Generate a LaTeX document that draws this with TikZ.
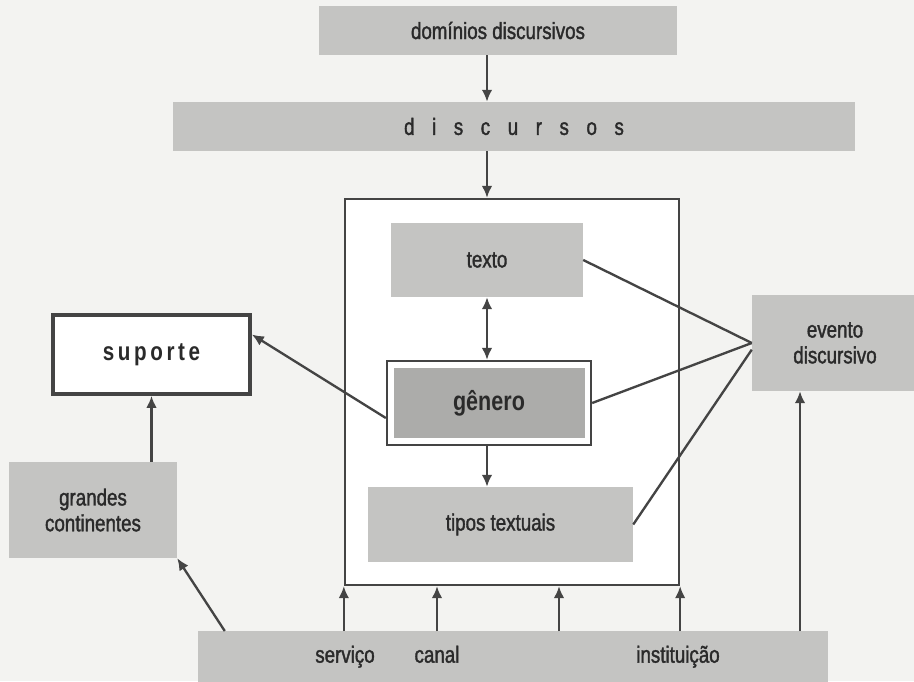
\documentclass[tikz,border=0pt]{standalone}
\usepackage{fontspec}
\setmainfont{Liberation Sans}[FakeStretch=0.8, UprightFeatures={FakeBold=1.5}]
\usepackage{xcolor}
\definecolor{pageBg}{HTML}{F3F3F1}
\definecolor{boxGray}{HTML}{C4C4C2}
\definecolor{boxDark}{HTML}{ACACAA}
\definecolor{lineGray}{HTML}{444444}
\definecolor{inkGray}{HTML}{2A2A2A}
\usepackage{tikz}
\usetikzlibrary{arrows.meta,positioning,calc}
\newcommand{\lgap}{\hspace{15pt}}
\tikzset{
  >={Latex[length=3.6mm,width=3.2mm]},
  every node/.append style={font=\fontsize{20pt}{22pt}\selectfont, text=inkGray},
  graybox/.style={rectangle,fill=boxGray,inner sep=4pt,align=center},
  framebox/.style={rectangle,draw=lineGray,line width=2pt,fill=white},
  flowarrow/.style={->,draw=lineGray,line width=2pt},
  bidirarrow/.style={<->,draw=lineGray,line width=2pt},
  plainline/.style={draw=lineGray,line width=2pt},
  barlabel/.style={inner sep=1pt,anchor=base},
}
\begin{document}
\begin{tikzpicture}[x=1cm,y=1cm]
  \useasboundingbox (0,0) rectangle (27.42,20.43);
  \clip (0,0) rectangle (27.42,20.43);
  \fill[pageBg] (0,0) rectangle (27.42,20.43);

  \node[graybox, minimum width=10.74cm, minimum height=1.47cm] (dominios) at (14.94,19.515) {domínios discursivos};
  \node[graybox, minimum width=20.46cm, minimum height=1.47cm] (discursos) at (15.42,16.635)
        {d\lgap i\lgap s\lgap c\lgap u\lgap r\lgap s\lgap o\lgap s};

  \node[framebox, minimum width=10.02cm, minimum height=11.58cm] (frame) at (15.36,8.67) {};
  \node[graybox, minimum width=5.76cm, minimum height=2.22cm] (texto) at (14.61,12.63) {texto};
  \node[framebox, minimum width=6.12cm, minimum height=2.52cm] (genfr) at (14.67,8.34) {};
  \node[rectangle, fill=boxDark, minimum width=5.73cm, minimum height=2.1cm,
        font=\fontsize{23pt}{25pt}\selectfont\bfseries] (genero) at (genfr.center) {gênero};
  \node[graybox, minimum width=7.95cm, minimum height=2.25cm] (tipos) at (15.015,4.695) {tipos textuais};

  \node[rectangle, draw=lineGray, line width=3.2pt, fill=white, minimum width=5.91cm, minimum height=2.37cm,
        font=\fontsize{22pt}{24pt}\selectfont\bfseries\addfontfeature{LetterSpace=14}] (suporte) at (4.545,9.795) {suporte};
  \node[graybox, minimum width=5.04cm, minimum height=2.88cm] (grandes) at (2.79,5.13) {grandes\\continentes};
  \node[graybox, minimum width=4.98cm, minimum height=2.88cm] (evento) at (25.05,10.14) {evento\\discursivo};

  \node[graybox, minimum width=18.9cm, minimum height=1.7cm, anchor=north] (bar) at (15.39,1.5) {};
  \node[barlabel] (servico) at (10.35,0.55) {serviço};
  \node[barlabel] (canal) at (13.11,0.55) {canal};
  \node[barlabel] (instit) at (20.34,0.55) {instituição};
  \coordinate (midfoot) at (16.77,0);
  \coordinate (evfoot) at (24.0,0);

  \draw[flowarrow] (dominios.south -| texto) -- (discursos.north -| texto);
  \draw[flowarrow] (discursos.south -| texto) -- (frame.north -| texto);
  \draw[bidirarrow] (texto.south) -- (genfr.north -| texto);
  \draw[flowarrow] (genfr.south -| texto) -- (tipos.north -| texto);

  \draw[plainline] (texto.east) -- (evento.west);
  \draw[plainline] (genfr.east) -- (evento.west);
  \draw[plainline] (tipos.east) -- ([yshift=-0.2cm]evento.west);

  \draw[flowarrow] ([yshift=-0.45cm]genfr.west) -- ([yshift=0.6cm]suporte.east);
  \draw[flowarrow] (grandes.north -| suporte.south) -- (suporte.south);
  \draw[flowarrow] ([xshift=0.81cm]bar.north west) -- (grandes.south east);

  \draw[flowarrow] (bar.north -| frame.south west) -- (frame.south west);
  \draw[flowarrow] (bar.north -| canal) -- (frame.south -| canal);
  \draw[flowarrow] (bar.north -| midfoot) -- (frame.south -| midfoot);
  \draw[flowarrow] (bar.north -| frame.south east) -- (frame.south east);
  \draw[flowarrow] (bar.north -| evfoot) -- (evento.south -| evfoot);
\end{tikzpicture}
\end{document}
